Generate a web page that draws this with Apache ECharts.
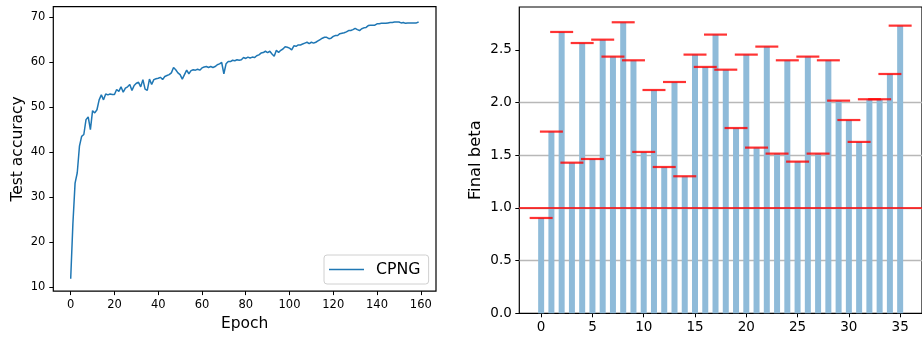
<!DOCTYPE html>
<html>
<head>
<meta charset="utf-8">
<script src="https://cdn.jsdelivr.net/npm/echarts@6/dist/echarts.min.js"></script>
<style>
html,body{margin:0;padding:0;background:#fff;}
#chart{width:922px;height:337px;}
</style>
</head>
<body>
<div id="chart"></div>
<script>
// ---- Left panel data: test accuracy per epoch (epochs 0..159) ----
var accuracy = [
 11.85, 24.0, 33.1, 35.4, 41.3, 43.5, 43.9, 47.2, 47.8, 45.0,
 49.2, 48.7, 49.4, 51.6, 52.7, 51.6, 52.9, 52.7, 52.9, 52.8,
 52.8, 53.9, 53.5, 54.5, 53.3, 54.2, 54.5, 55.0, 53.7, 54.8,
 55.3, 55.5, 54.5, 56.1, 54.0, 53.7, 56.2, 55.0, 56.1, 56.3,
 56.4, 56.6, 56.1, 56.8, 57.0, 57.2, 57.6, 58.8, 58.3, 57.6,
 57.2, 56.2, 57.2, 58.2, 57.4, 58.1, 58.3, 58.2, 58.4, 58.2,
 58.7, 58.9, 59.0, 58.8, 59.0, 58.8, 59.0, 59.4, 59.6, 59.9,
 57.4, 59.6, 60.1, 60.1, 60.4, 60.3, 60.5, 60.4, 60.5, 61.0,
 60.8, 61.1, 60.9, 61.1, 61.0, 61.4, 61.6, 62.0, 62.1, 62.4,
 62.1, 62.4, 61.8, 61.3, 62.6, 62.1, 62.6, 62.9, 63.4, 63.3,
 63.1, 62.7, 63.6, 63.5, 63.8, 63.8, 64.0, 64.2, 64.4, 64.1,
 64.4, 64.2, 64.4, 64.7, 65.0, 65.3, 65.5, 65.5, 65.2, 65.3,
 65.7, 65.9, 65.9, 66.3, 66.4, 66.5, 66.7, 67.0, 67.0, 67.2,
 67.5, 67.2, 67.0, 67.4, 67.6, 67.7, 68.1, 68.2, 68.2, 68.2,
 68.5, 68.5, 68.6, 68.6, 68.6, 68.7, 68.8, 68.8, 68.9, 68.9,
 68.9, 68.7, 68.8, 68.6, 68.7, 68.7, 68.7, 68.7, 68.7, 68.9
];
var leftXTicks = [0, 20, 40, 60, 80, 100, 120, 140, 160];
var leftYTicks = [10, 20, 30, 40, 50, 60, 70];
var seriesName = 'CPNG';

// ---- Right panel data: final beta per index (0..35) ----
var betaIndex = [];
for (var k = 0; k < 36; k++) betaIndex.push(k);
var betaValues = [
 0.905, 1.725, 2.671, 1.430, 2.566, 1.465, 2.598, 2.437, 2.763, 2.402,
 1.532, 2.120, 1.389, 2.196, 1.301, 2.456, 2.339, 2.646, 2.313, 1.759,
 2.456, 1.573, 2.532, 1.516, 2.402, 1.440, 2.437, 1.516, 2.402, 2.019,
 1.835, 1.627, 2.032, 2.032, 2.272, 2.731
];
var rightXTicks = [0, 5, 10, 15, 20, 25, 30, 35];
var rightYTicks = [0, 0.5, 1.0, 1.5, 2.0, 2.5];
var thresholdValue = 1.0;

var FONT = 'DejaVu Sans';
var chart = echarts.init(document.getElementById('chart'), null, {renderer: 'canvas'});

var accData = accuracy.map(function (v, i) { return [i, v]; });
var betaData = betaIndex.map(function (i) { return [i, betaValues[i]]; });

function axisCommon(fontSize, ticks, margin, fmt) {
  return {
    axisLine: {show: false, onZero: false},
    axisTick: {show: true, length: 4, inside: false, customValues: ticks,
               lineStyle: {color: '#000', width: 1}},
    axisLabel: {show: true, customValues: ticks, margin: margin, color: '#000',
                fontFamily: FONT, fontSize: fontSize, formatter: fmt}
  };
}

var lx = axisCommon(11.5, leftXTicks, 8, function (v) { return String(v); });
var ly = axisCommon(11.5, leftYTicks, 8, function (v) { return String(v); });
var rx = axisCommon(13.5, rightXTicks, 7, function (v) { return String(v); });
var ry = axisCommon(13.5, rightYTicks, 7.5, function (v) { return v.toFixed(1); });

var option = {
  backgroundColor: '#fff',
  animation: false,
  grid: [
    {left: 53.3, top: 6.7, width: 382.7, height: 285, show: true,
     borderColor: '#000', borderWidth: 1.2, backgroundColor: 'transparent'},
    {left: 519.3, top: 7, width: 412, height: 306.3, show: true,
     borderColor: '#000', borderWidth: 1.2, backgroundColor: 'transparent'}
  ],
  legend: {
    data: [{name: seriesName, icon: 'rect'}],
    left: 324, top: 255,
    padding: [6.5, 8, 6.5, 5],
    itemWidth: 35, itemHeight: 1.5, itemGap: 10,
    borderColor: '#d0d0d0', borderWidth: 1, borderRadius: 3,
    backgroundColor: 'rgba(255,255,255,0.8)',
    textStyle: {fontFamily: FONT, fontSize: 15.8, color: '#000', padding: [0, 0, 0, 7]}
  },
  xAxis: [
    Object.assign({type: 'value', gridIndex: 0, min: -7.95, max: 166.95,
      name: 'Epoch', nameLocation: 'middle', nameGap: 24,
      nameTextStyle: {fontFamily: FONT, fontSize: 15.5, color: '#000'},
      splitLine: {show: false}}, lx),
    Object.assign({type: 'value', gridIndex: 1, min: -2.13, max: 37.13,
      splitLine: {show: false}}, rx)
  ],
  yAxis: [
    Object.assign({type: 'value', gridIndex: 0, min: 9.1, max: 72.3,
      name: 'Test accuracy', nameLocation: 'middle', nameGap: 27,
      nameTextStyle: {fontFamily: FONT, fontSize: 15.5, color: '#000'},
      splitLine: {show: false}}, ly),
    Object.assign({type: 'value', gridIndex: 1, min: 0, max: 2.908, interval: 0.5,
      name: 'Final beta', nameLocation: 'middle', nameGap: 36,
      nameTextStyle: {fontFamily: FONT, fontSize: 16.4, color: '#000'},
      splitLine: {show: true, showMinLine: false, showMaxLine: false,
                  lineStyle: {color: '#b8b8b8', width: 1.3}}}, ry)
  ],
  series: [
    {
      name: seriesName, type: 'line', xAxisIndex: 0, yAxisIndex: 0,
      data: accData, symbol: 'none', showSymbol: false,
      lineStyle: {color: '#1f77b4', width: 1.5}, itemStyle: {color: '#1f77b4'},
      z: 3
    },
    {
      type: 'bar', xAxisIndex: 1, yAxisIndex: 1, data: betaData,
      barWidth: 6, itemStyle: {color: '#8fbbd9'}, z: 2
    },
    {
      type: 'scatter', xAxisIndex: 1, yAxisIndex: 1, data: betaData,
      symbol: 'rect', symbolSize: [23, 2.2],
      itemStyle: {color: '#ff0000'}, z: 4,
      markLine: {
        silent: true, symbol: 'none', label: {show: false},
        lineStyle: {color: '#ff0000', width: 1.5, type: 'solid'},
        data: [{yAxis: thresholdValue}]
      }
    }
  ]
};
chart.setOption(option);
</script>
</body>
</html>
